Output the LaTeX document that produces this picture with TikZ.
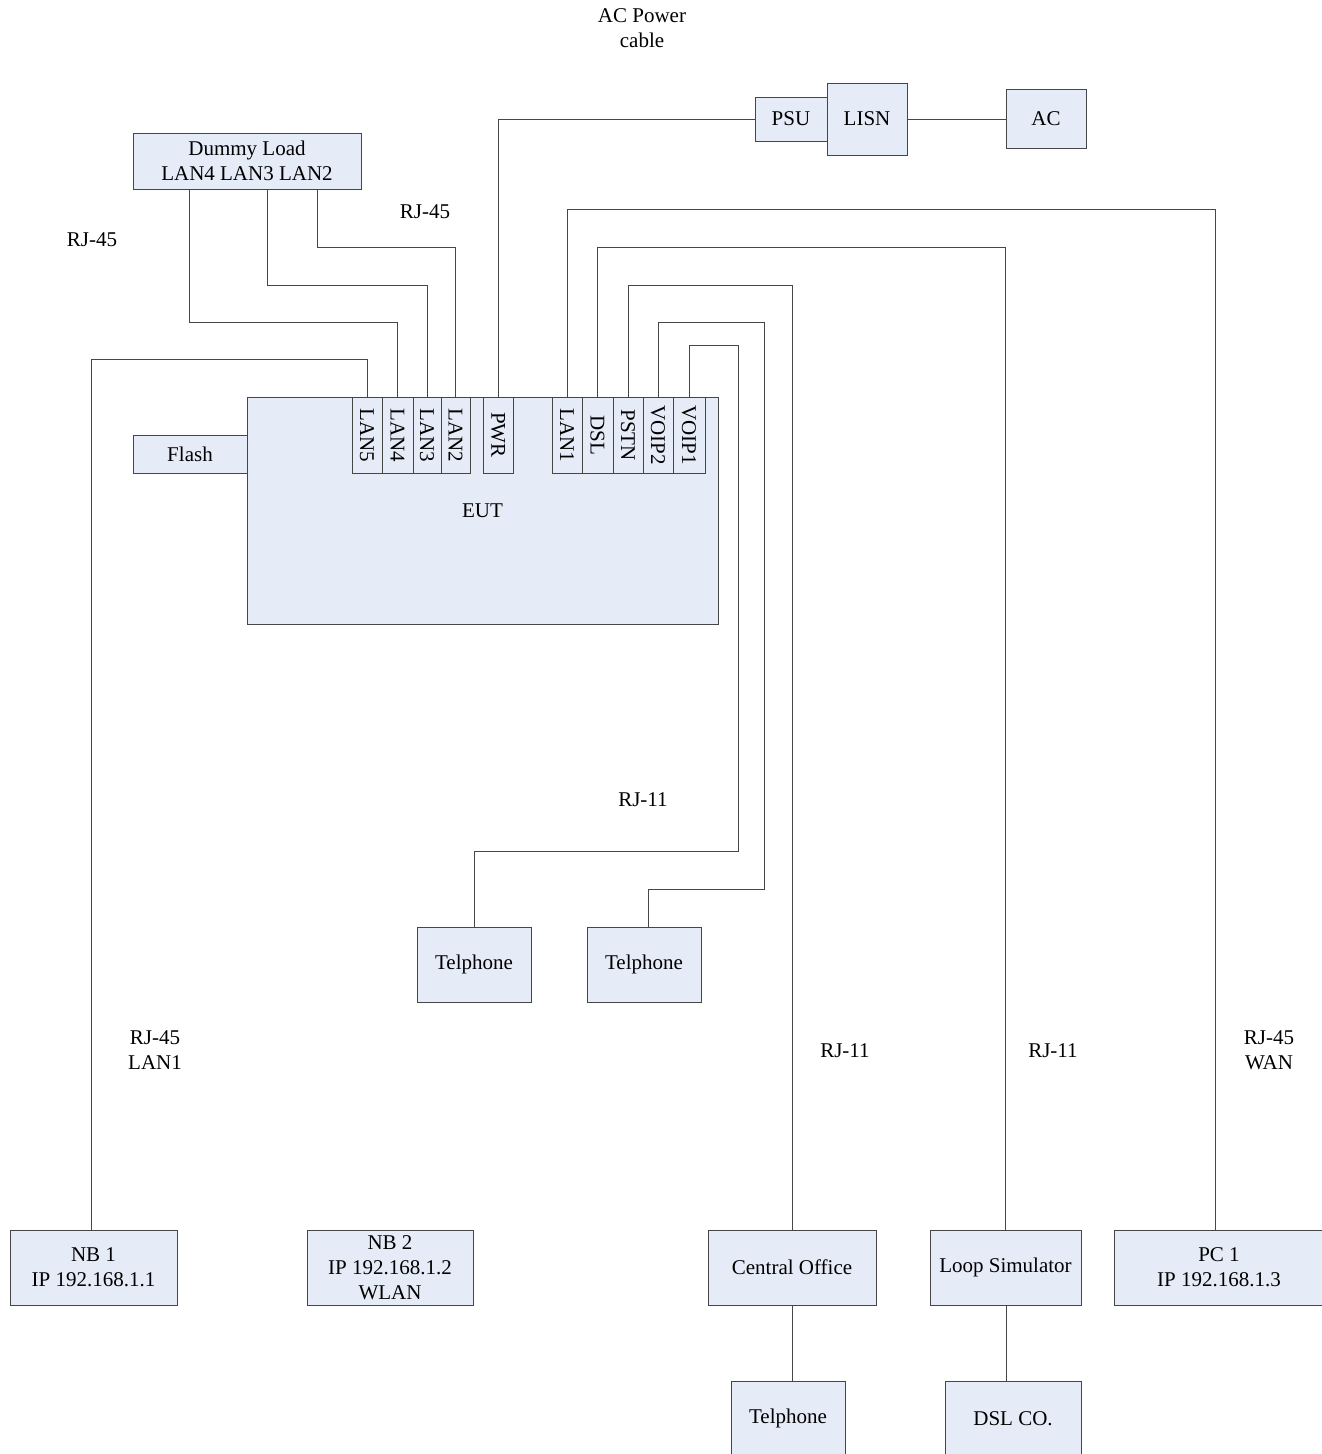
\documentclass[tikz,border=0pt]{standalone}
\usepackage{fontspec}
\setmainfont{Liberation Serif}
\usepackage{graphicx}
\newcommand{\fs}{\fontsize{21}{25}\selectfont}
\definecolor{boxfill}{RGB}{230,236,247}
\definecolor{edgegray}{RGB}{70,70,70}
\tikzset{
  box/.style={draw=edgegray, fill=boxfill, line width=1pt, inner sep=0pt, align=center, font=\fs},
  port/.style={box, minimum height=76pt},
  wire/.style={draw=edgegray, line width=1pt},
  lbl/.style={align=center, inner sep=0pt, font=\fs}
}
\begin{document}
\begin{tikzpicture}[x=1pt,y=-1pt]
\useasboundingbox (0,0) rectangle (1322,1454);
% labels
\node[lbl] (acl) at (642,28.5) {AC Power\\cable};
\node[lbl] (rj1) at (92,240) {RJ-45};
\node[lbl] (rj2) at (425,212) {RJ-45};
\node[lbl] (rj3) at (643,800) {RJ-11};
\node[lbl] (rj4) at (155,1050.5) {RJ-45\\LAN1};
\node[lbl] (rj5) at (845,1051) {RJ-11};
\node[lbl] (rj6) at (1053,1051) {RJ-11};
\node[lbl] (rj7) at (1269,1050.5) {RJ-45\\WAN};
% boxes
\node[box, minimum width=228pt, minimum height=56pt] (dummy) at (247,161) {Dummy Load\\LAN4 LAN3 LAN2};
\node[box, minimum width=72pt, minimum height=44pt] (psu) at (791,119) {PSU};
\node[box, minimum width=80pt, minimum height=72pt] (lisn) at (867,119) {LISN};
\node[box, minimum width=80pt, minimum height=59pt] (ac) at (1046,118.5) {AC};
\node[box, minimum width=114pt, minimum height=38pt] (flash) at (190,454) {Flash};
\node[box, minimum width=471pt, minimum height=227pt] (eut) at (482.5,510.5) {EUT};
\node[port, minimum width=30pt] (lan5) at (367,435) {\rotatebox{-90}{LAN5}};
\node[port, minimum width=31pt] (lan4) at (397.5,435) {\rotatebox{-90}{LAN4}};
\node[port, minimum width=28pt] (lan3) at (427,435) {\rotatebox{-90}{LAN3}};
\node[port, minimum width=29pt] (lan2) at (455.5,435) {\rotatebox{-90}{LAN2}};
\node[port, minimum width=30pt] (pwr) at (498,435) {\rotatebox{-90}{PWR}};
\node[port, minimum width=30pt] (lan1) at (567,435) {\rotatebox{-90}{LAN1}};
\node[port, minimum width=31pt] (dsl) at (597.5,435) {\rotatebox{-90}{DSL}};
\node[port, minimum width=30pt] (pstn) at (628,435) {\rotatebox{-90}{PSTN}};
\node[port, minimum width=30pt] (voip2) at (658,435) {\rotatebox{-90}{VOIP2}};
\node[port, minimum width=32pt] (voip1) at (689,435) {\rotatebox{-90}{VOIP1}};
\node[box, minimum width=114pt, minimum height=75pt] (tel1) at (474,964.5) {Telphone};
\node[box, minimum width=114pt, minimum height=75pt] (tel2) at (644,964.5) {Telphone};
\node[box, minimum width=167pt, minimum height=75pt] (nb1) at (93.5,1267.5) {NB 1\\IP 192.168.1.1};
\node[box, minimum width=166pt, minimum height=75pt] (nb2) at (390,1267.5) {NB 2\\IP 192.168.1.2\\WLAN};
\node[box, minimum width=168pt, minimum height=75pt] (co) at (792,1267.5) {Central Office};
\node[box, minimum width=151pt, minimum height=75pt] (loop) at (1005.5,1267.5) {Loop Simulator};
\node[box, minimum width=210pt, minimum height=75pt] (pc1) at (1219,1267.5) {PC 1\\IP 192.168.1.3};
\node[box, minimum width=114pt, minimum height=75pt] (tel3) at (788,1418.5) {Telphone};
\node[box, minimum width=136pt, minimum height=75pt] (dslco) at (1013,1418.5) {DSL CO.};
% wires
\draw[wire] (lan5.north) |- (91,359) -- (nb1.north -| 91,0);
\draw[wire] (lan4.north) |- (189,322) -- (dummy.south -| 189,0);
\draw[wire] (lan3.north) |- (267,285) -- (dummy.south -| 267,0);
\draw[wire] (lan2.north) |- (317,247) -- (dummy.south -| 317,0);
\draw[wire] (pwr.north) |- (psu.west);
\draw[wire] (lisn.east) -- (ac.west |- lisn.east);
\draw[wire] (lan1.north) |- (1215,209) -- (pc1.north -| 1215,0);
\draw[wire] (dsl.north) |- (1005,247) -- (loop.north -| 1005,0);
\draw[wire] (pstn.north) |- (792,285) -- (co.north);
\draw[wire] (voip2.north) |- (764,322) |- (648,889) -- (tel2.north -| 648,0);
\draw[wire] (voip1.north) |- (738,345) |- (474,851) -- (tel1.north);
\draw[wire] (co.south) -- (co.south |- tel3.north);
\draw[wire] (loop.south -| 1006,0) -- (dslco.north -| 1006,0);
\end{tikzpicture}
\end{document}
